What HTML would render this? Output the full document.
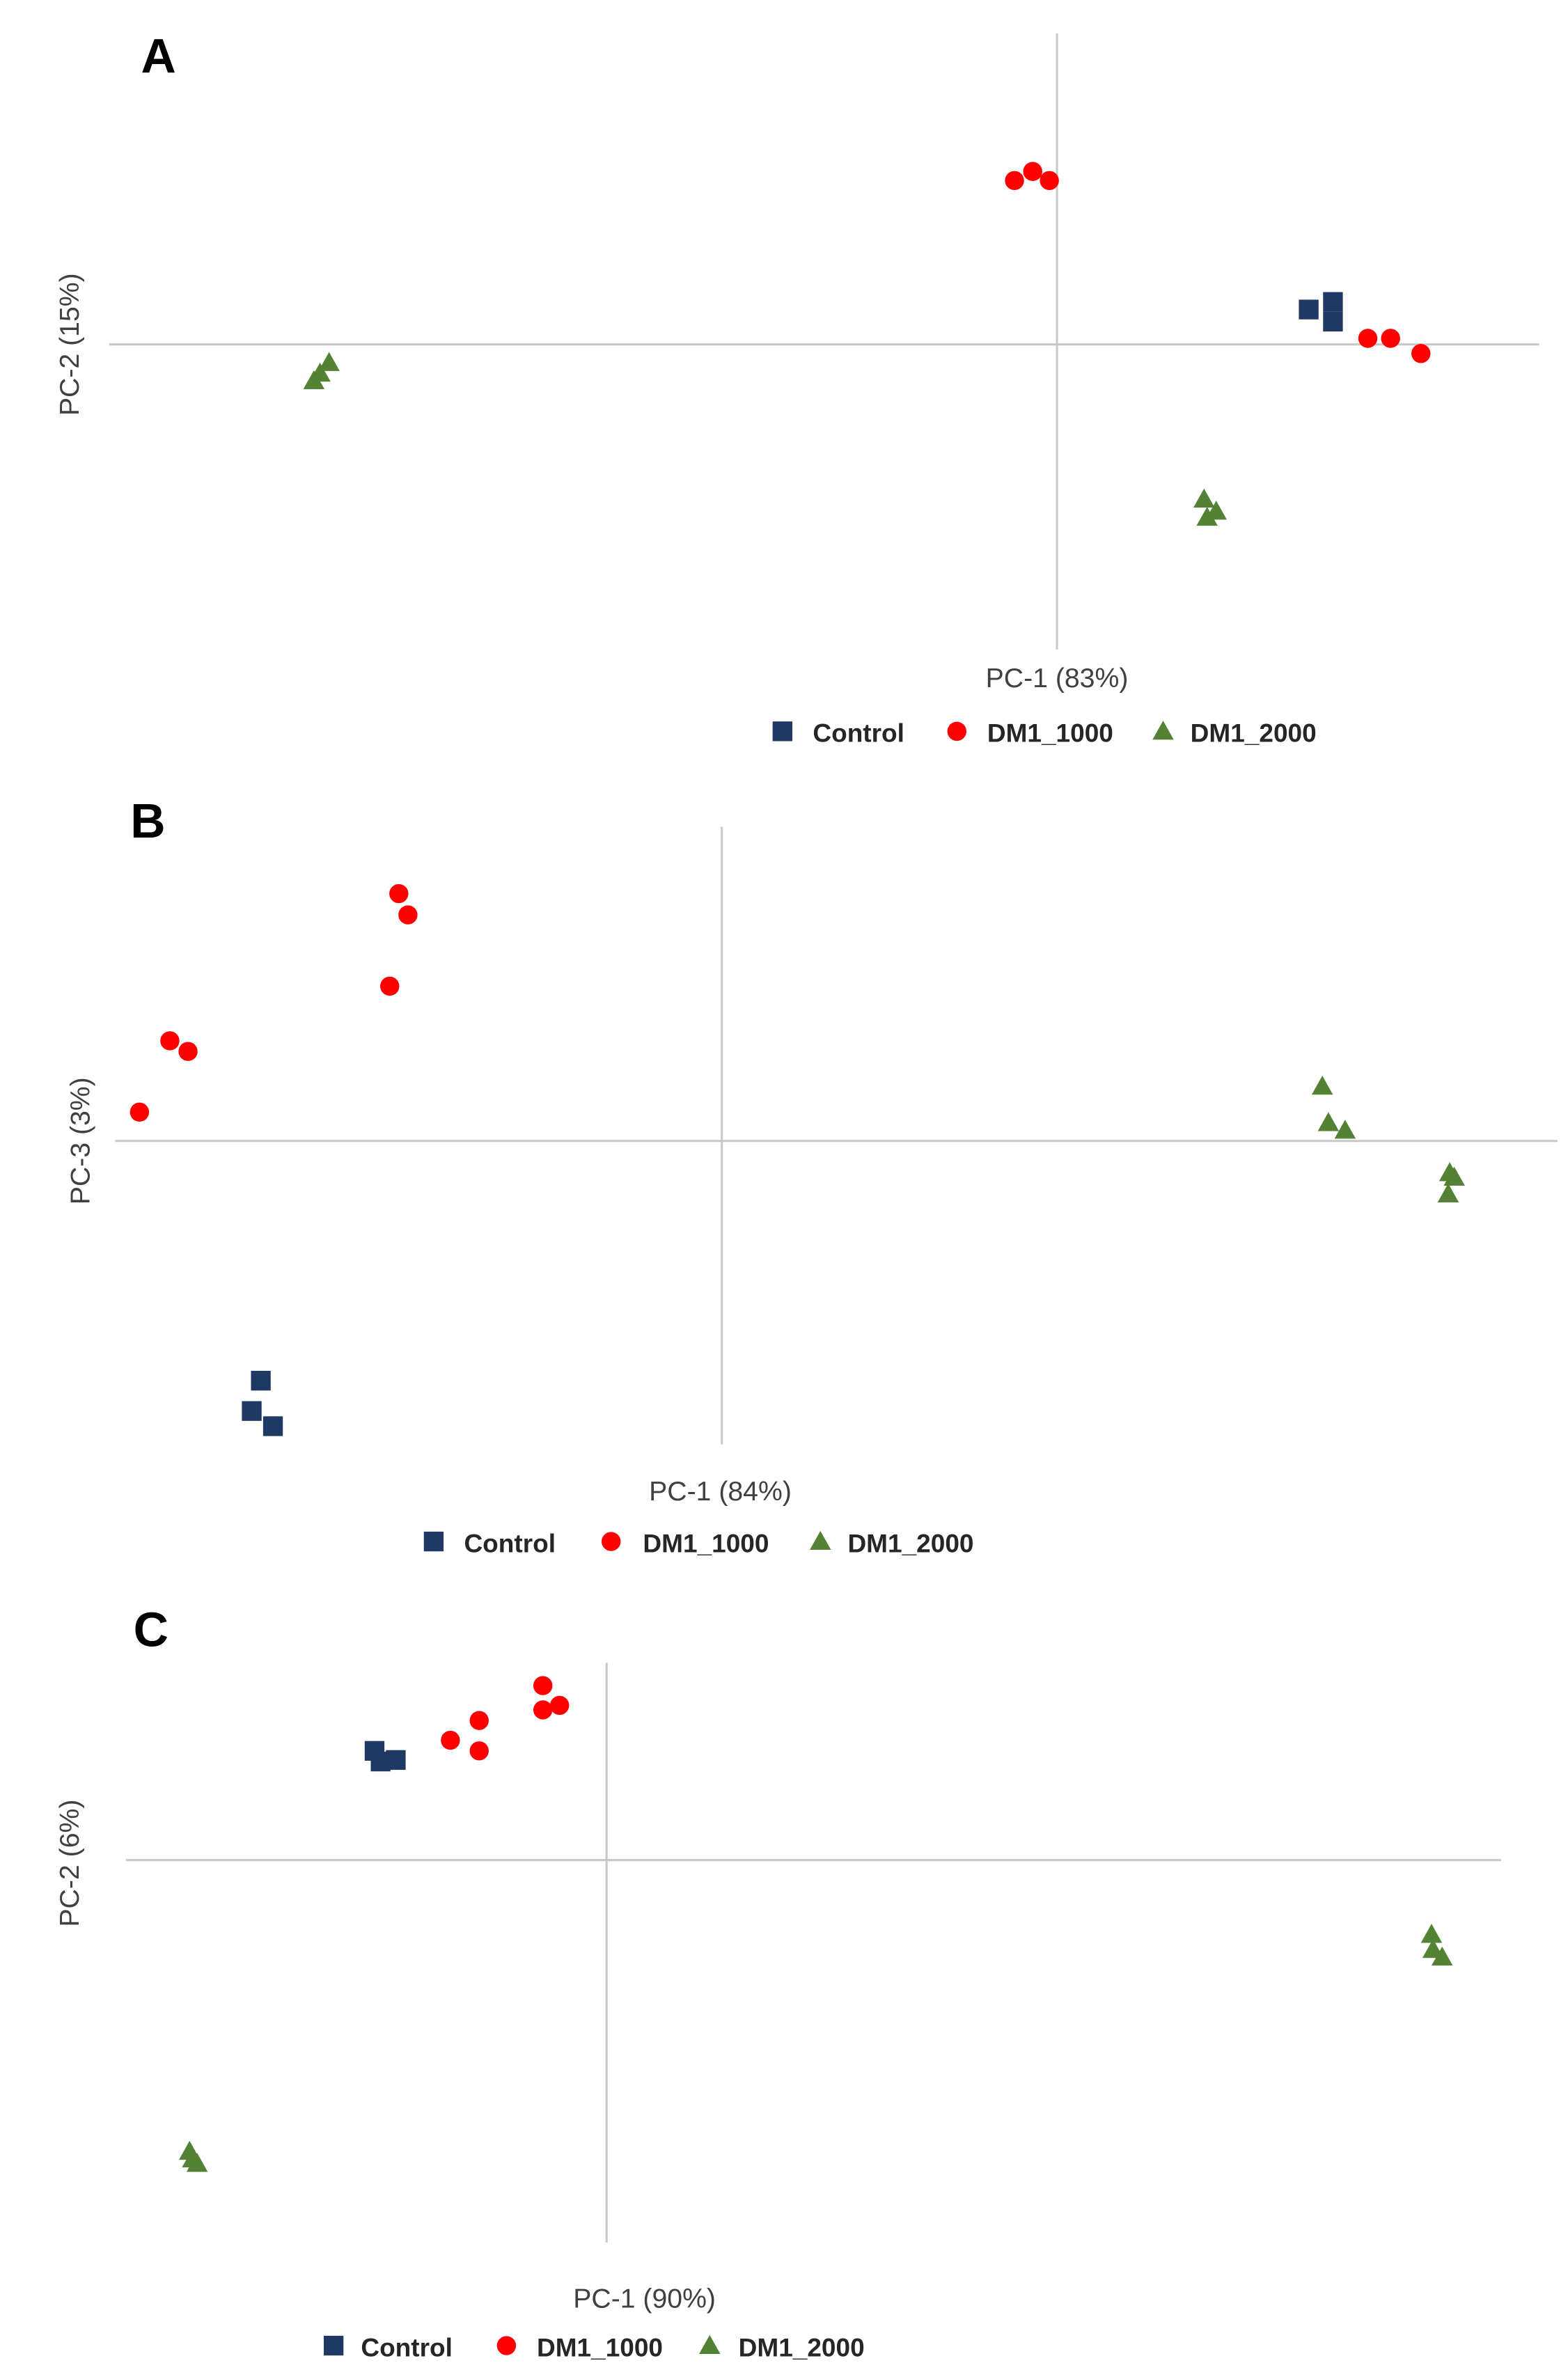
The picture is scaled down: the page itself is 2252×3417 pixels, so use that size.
<!DOCTYPE html>
<html>
<head>
<meta charset="utf-8">
<style>
html,body{margin:0;padding:0;background:#fff;}
svg{display:block;}
text{font-family:"Liberation Sans",Arial,sans-serif;}
</style>
</head>
<body>
<svg id="fig" width="2252" height="3417" viewBox="0 0 1034 1568" preserveAspectRatio="none" xmlns="http://www.w3.org/2000/svg"></svg>
<script>
// Panel A data (PC scores, arbitrary units)
const aControlX = [16.6, 18.2, 18.2];
const aControlY = [2.3, 2.8, 1.5];
const aDm1000X = [-2.8, -1.6, -0.5, 20.5, 22.0, 24.0];
const aDm1000Y = [10.8, 11.4, 10.8, 0.4, 0.4, -0.6];
const aDm2000X = [-49.0, -48.6, -48.0, 9.7, 10.5, 9.9];
const aDm2000Y = [-2.4, -1.9, -1.2, -10.2, -11.0, -11.4];
// Panel B data
const bControlX = [-30.4, -31.0, -29.6];
const bControlY = [-15.8, -17.8, -18.8];
const bDm1000X = [-21.3, -20.7, -21.9, -36.4, -35.2, -38.4];
const bDm1000Y = [16.3, 14.9, 10.2, 6.6, 5.9, 1.9];
const bDm2000X = [39.6, 40.0, 41.1, 48.0, 48.3, 47.9];
const bDm2000Y = [3.6, 1.2, 0.7, -2.1, -2.4, -3.5];
// Panel C data
const cControlX = [-15.3, -14.9, -13.9];
const cControlY = [7.2, 6.5, 6.6];
const cDm1000X = [-4.2, -4.2, -3.1, -8.4, -10.3, -8.4];
const cDm1000Y = [11.5, 9.9, 10.2, 9.2, 7.9, 7.2];
const cDm2000X = [54.4, 54.5, 55.1, -27.5, -27.3, -27.0];
const cDm2000Y = [-4.9, -5.9, -6.4, -19.2, -19.7, -20.0];
// Axis labels
const panelLetters = ["A", "B", "C"];
const xAxisTitles = ["PC-1 (83%)", "PC-1 (84%)", "PC-1 (90%)"];
const yAxisTitles = ["PC-2 (15%)", "PC-3 (3%)", "PC-2 (6%)"];
const seriesNames = ["Control", "DM1_1000", "DM1_2000"];

const NS = "http://www.w3.org/2000/svg";
const svg = document.getElementById("fig");
const COLORS = ["#1f3864", "#ff0000", "#548235"];

function mk(tag, attrs, parent) {
  const e = document.createElementNS(NS, tag);
  for (const k in attrs) e.setAttribute(k, attrs[k]);
  (parent || svg).appendChild(e);
  return e;
}

const panels = [
  {ox:697, oy:227, vx0:22, vx1:428, hx0:72, hx1:1015, letter:[93,48], xt:[697,453], yt:[52,227],
   leg:[[516,482],[536],[631],[651],[767],[785]], legY:489,
   data:[[aControlX,aControlY],[aDm1000X,aDm1000Y],[aDm2000X,aDm2000Y]]},
  {ox:476, oy:752, vx0:545, vx1:952, hx0:76, hx1:1027, letter:[86,552], xt:[475,989], yt:[59,752],
   leg:[[286,1016],[306],[403],[424],[541],[559]], legY:1023,
   data:[[bControlX,bControlY],[bDm1000X,bDm1000Y],[bDm2000X,bDm2000Y]]},
  {ox:400, oy:1226, vx0:1096, vx1:1478, hx0:83, hx1:990, letter:[88,1085], xt:[425,1521], yt:[52,1228],
   leg:[[220,1546],[238],[334],[354],[468],[487]], legY:1553,
   data:[[cControlX,cControlY],[cDm1000X,cDm1000Y],[cDm2000X,cDm2000Y]]}
];
const UNIT = 10; // pixels per score unit

panels.forEach((p, i) => {
  const g = mk("g", {});
  
  
  const xs = v => p.ox + v * UNIT;
  const ys = v => p.oy - v * UNIT;

  const vl = mk("line", {x1:p.ox, x2:p.ox, y1:p.vx0, y2:p.vx1, stroke:"#c8c8c8", "stroke-width":1.4}, g);
  
  
  const hl = mk("line", {x1:p.hx0, x2:p.hx1, y1:p.oy, y2:p.oy, stroke:"#c8c8c8", "stroke-width":1.4}, g);
  
  

  const L = mk("text", {x:p.letter[0], y:p.letter[1], "font-size":32, "font-weight":"bold", fill:"#000"}, g);
  L.textContent = panelLetters[i];
  
  

  const xt = mk("text", {x:p.xt[0], y:p.xt[1], "font-size":18, "text-anchor":"middle", fill:"#404040"}, g);
  xt.textContent = xAxisTitles[i];
  
  
  const yt = mk("text", {x:p.yt[0], y:p.yt[1], "font-size":18, "text-anchor":"middle", fill:"#404040",
    transform:"rotate(-90 " + p.yt[0] + " " + p.yt[1] + ")"}, g);
  yt.textContent = yAxisTitles[i];
  
  

  function marker(s, cx, cy, parent) {
    let e;
    if (s === 0) e = mk("rect", {x:cx-6.5, y:cy-6.5, width:13, height:13, fill:COLORS[0]}, parent);
    else if (s === 1) e = mk("circle", {cx:cx, cy:cy, r:6.3, fill:COLORS[1]}, parent);
    else e = mk("polygon", {points:(cx)+","+(cy-7)+" "+(cx+7)+","+(cy+5.5)+" "+(cx-7)+","+(cy+5.5), fill:COLORS[2]}, parent);
    return e;
  }

  p.data.forEach((d, s) => {
    for (let k = 0; k < d[0].length; k++) {
      const m = marker(s, xs(d[0][k]), ys(d[1][k]), g);
      
      
    }
  });

  const lg = mk("g", {}, g);
  
  
  const mx = [p.leg[0][0], p.leg[2][0], p.leg[4][0]];
  const tx = [p.leg[1][0], p.leg[3][0], p.leg[5][0]];
  const my = p.leg[0][1];
  for (let s = 0; s < 3; s++) {
    const m = marker(s, mx[s], my, lg);
    
    
    const t = mk("text", {x:tx[s], y:p.legY, "font-size":17, "font-weight":"bold", fill:"#262626"}, lg);
    t.textContent = seriesNames[s];
    
    
  }
});
</script>
</body>
</html>
